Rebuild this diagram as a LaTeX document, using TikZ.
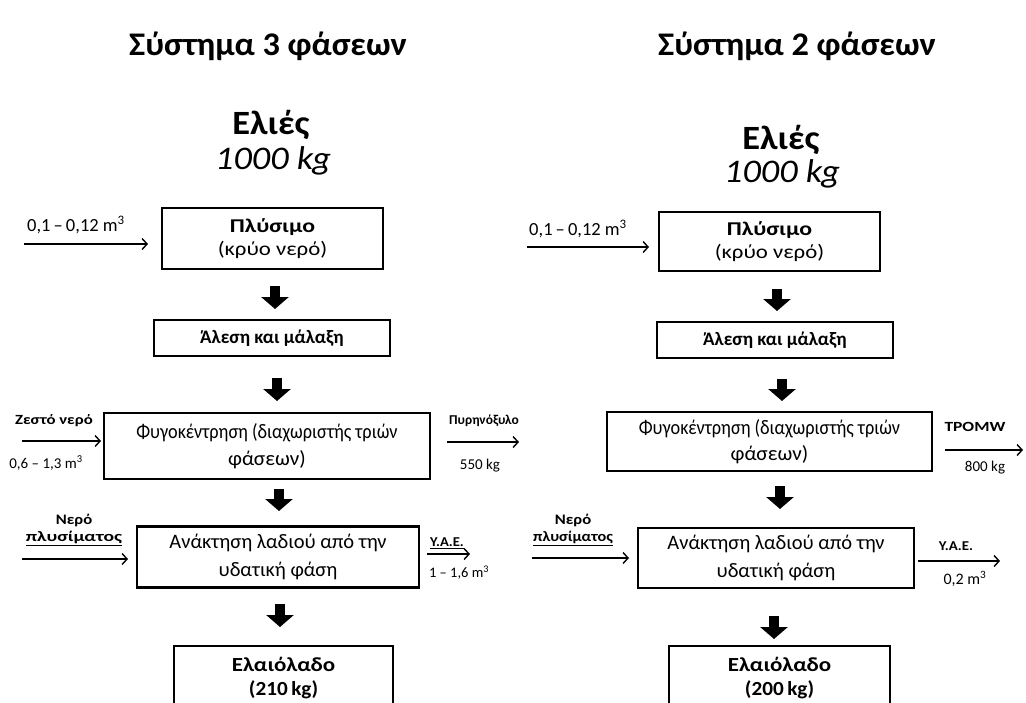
\documentclass[tikz,border=0pt]{standalone}
\usepackage{fontspec}
\usepackage{graphicx}
\setmainfont{Carlito}
\usetikzlibrary{arrows.meta}
\newcommand{\fz}[1]{\fontsize{#1}{#1}\selectfont}
\newcommand{\sx}[2]{\scalebox{#1}[1]{#2}}
\begin{document}
\begin{tikzpicture}[x=1pt,y=-1pt,
  proc/.style={draw, line width=2.2pt, align=center, inner sep=2pt, font=\fz{20.5}},
  title/.style={font=\bfseries\fz{33}},
  head/.style={font=\bfseries\fz{34}},
  mass/.style={font=\itshape\fz{33}},
  lbl/.style={font=\bfseries\fz{14}, align=center, inner sep=1pt},
  qty/.style={font=\fz{14.5}, inner sep=1pt},
  blk/.style={line width=10pt, line cap=butt, -{Triangle[length=12pt, width=27pt]}},
  flow/.style={line width=1.4pt, -{Straight Barb[length=5pt, width=11pt, line width=1.4pt]}}
]
\clip (0,0) rectangle (1026,702);
\fill[white] (0,0) rectangle (1026,702);

% ---------- left: 3-phase ----------
\node[title] (t1) at (268,46) {\sx{1.04}{Σύστημα 3 φάσεων}};
\node[head] (e1) at (271,125) {\sx{1.07}{Ελιές}};
\node[mass] (m1) at (273,161) {\sx{1.1}{1000 kg}};

\node[proc, minimum width=221pt, minimum height=61pt, font=\fz{19.5}] (L1) at (272.5,238.5)
  {\sx{1.22}{\textbf{Πλύσιμο}}\\[4pt]\sx{1.17}{(κρύο νερό)}};
\node[proc, minimum width=236pt, minimum height=36pt, font=\bfseries\fz{19}] (L2) at (272,338) {Άλεση και μάλαξη};
\node[proc, minimum width=326pt, minimum height=66pt] (L3) at (267,446)
  {\sx{0.89}{Φυγοκέντρηση (διαχωριστής τριών}\\[6.5pt]\sx{1.04}{φάσεων)}};
\node[proc, minimum width=282pt, minimum height=61pt] (L4) at (278,557)
  {Ανάκτηση λαδιού από την\\[7pt]υδατική φάση};
\node[proc, minimum width=219pt, minimum height=70pt, anchor=north] (L5) at (283.5,645) {};
\node[font=\bfseries\fz{20}] (L5a) at (283.5,664) {\sx{1.15}{Ελαιόλαδο}};
\node[font=\bfseries\fz{20}] (L5b) at (283.5,690) {\sx{1.06}{(210\,kg)}};

\coordinate (la1s) at (275,286); \coordinate (la1e) at (275,309);
\coordinate (la2s) at (277,378); \coordinate (la2e) at (277,401);
\coordinate (la3s) at (279,489); \coordinate (la3e) at (279,511);
\coordinate (la4s) at (280,604); \coordinate (la4e) at (280,627);
\draw[blk] (la1s) -- (la1e);
\draw[blk] (la2s) -- (la2e);
\draw[blk] (la3s) -- (la3e);
\draw[blk] (la4s) -- (la4e);

% side flows left
\node[font=\fz{18.5}, inner sep=1pt] (lq1) at (76,225) {0,1\,–\,0,12 m\textsuperscript{3}};
\coordinate (lf1s) at (24,244); \coordinate (lf1e) at (148,244);
\draw[flow] (lf1s) -- (lf1e);

\node[lbl] (lz) at (54,421) {\sx{1.2}{Ζεστό νερό}};
\coordinate (lf2s) at (22,441); \coordinate (lf2e) at (101,441);
\draw[flow] (lf2s) -- (lf2e);
\node[qty, font=\fz{15}] (lq2) at (46,463) {0,6 – 1,3 m\textsuperscript{3}};

\node[lbl, font=\bfseries\fz{13.5}] (lp) at (484,421) {Πυρηνόξυλο};
\coordinate (lf3s) at (447,442); \coordinate (lf3e) at (519,442);
\draw[flow] (lf3s) -- (lf3e);
\node[qty, font=\fz{15}] (lq3) at (480,466) {550 kg};

\node[lbl, font=\bfseries\fz{14.5}] (ln) at (74,530) {\sx{1.15}{Νερό}\\[2pt]\sx{1.35}{\underline{πλυσίματος}}};
\coordinate (lf4s) at (22,559); \coordinate (lf4e) at (128,559);
\draw[flow] (lf4s) -- (lf4e);

\node[lbl, font=\bfseries\fz{13.5}] (ly) at (447,543) {\sx{1.08}{\underline{Υ.Α.Ε.}}};
\coordinate (lf5s) at (427,554); \coordinate (lf5e) at (470,554);
\draw[flow] (lf5s) -- (lf5e);
\node[qty] (lq5) at (459,573) {1 – 1,6 m\textsuperscript{3}};

% ---------- right: 2-phase ----------
\node[title] (t2) at (797,46) {\sx{1.04}{Σύστημα 2 φάσεων}};
\node[head] (e2) at (781,140) {\sx{1.07}{Ελιές}};
\node[mass] (m2) at (782,174) {\sx{1.1}{1000 kg}};

\node[proc, minimum width=221pt, minimum height=59pt, font=\fz{19.5}] (R1) at (769.5,241.5)
  {\sx{1.22}{\textbf{Πλύσιμο}}\\[4pt]\sx{1.17}{(κρύο νερό)}};
\node[proc, minimum width=236pt, minimum height=36pt, font=\bfseries\fz{19}] (R2) at (775,340) {Άλεση και μάλαξη};
\node[proc, minimum width=325pt, minimum height=59pt] (R3) at (769.5,441.5)
  {\sx{0.89}{Φυγοκέντρηση (διαχωριστής τριών}\\[5pt]\sx{1.04}{φάσεων)}};
\node[proc, minimum width=276pt, minimum height=60pt] (R4) at (776,558)
  {Ανάκτηση λαδιού από την\\[7pt]υδατική φάση};
\node[proc, minimum width=221pt, minimum height=70pt, anchor=north] (R5) at (779.5,645) {};
\node[font=\bfseries\fz{20}] (R5a) at (779.5,664) {\sx{1.15}{Ελαιόλαδο}};
\node[font=\bfseries\fz{20}] (R5b) at (779.5,690) {\sx{1.06}{(200\,kg)}};

\coordinate (ra1s) at (777,289); \coordinate (ra1e) at (777,311);
\coordinate (ra2s) at (782,379); \coordinate (ra2e) at (782,401);
\coordinate (ra3s) at (780,486); \coordinate (ra3e) at (780,509);
\coordinate (ra4s) at (774,616); \coordinate (ra4e) at (774,639);
\draw[blk] (ra1s) -- (ra1e);
\draw[blk] (ra2s) -- (ra2e);
\draw[blk] (ra3s) -- (ra3e);
\draw[blk] (ra4s) -- (ra4e);

\node[font=\fz{18.5}, inner sep=1pt] (rq1) at (578,229) {0,1\,–\,0,12 m\textsuperscript{3}};
\coordinate (rf1s) at (527,247); \coordinate (rf1e) at (649,247);
\draw[flow] (rf1s) -- (rf1e);

\node[lbl] (rt) at (975,427) {\sx{1.25}{TPOMW}};
\coordinate (rf2s) at (945,450); \coordinate (rf2e) at (1023,450);
\draw[flow] (rf2s) -- (rf2e);
\node[qty, font=\fz{15}] (rq2) at (985,468) {800 kg};

\node[lbl, font=\bfseries\fz{14.5}] (rn) at (573,530) {\sx{1.15}{Νερό}\\[2pt]\sx{1.12}{\underline{πλυσίματος}}};
\coordinate (rf3s) at (532,558); \coordinate (rf3e) at (629,558);
\draw[flow] (rf3s) -- (rf3e);

\node[lbl, font=\bfseries\fz{13.5}] (ry) at (956,546) {\sx{1.1}{Υ.Α.Ε.}};
\coordinate (rf4s) at (918,561); \coordinate (rf4e) at (1000,561);
\draw[flow] (rf4s) -- (rf4e);
\node[qty, font=\fz{16}] (rq4) at (965,579) {0,2 m\textsuperscript{3}};
\end{tikzpicture}
\end{document}
